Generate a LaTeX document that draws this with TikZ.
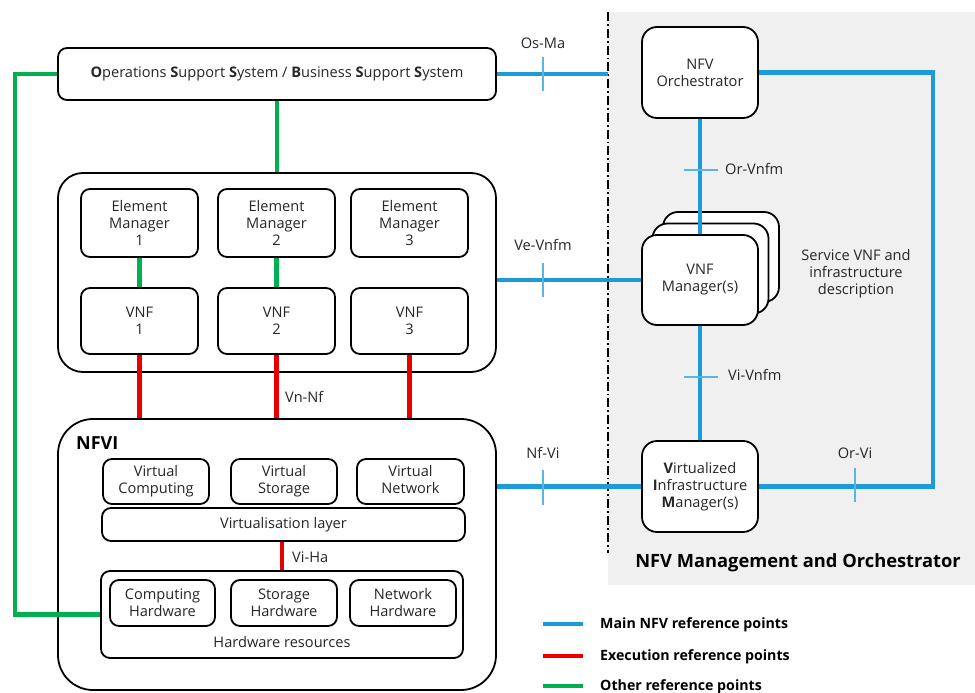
\documentclass[tikz,border=0pt]{standalone}
\usepackage{fontspec}
\setmainfont{Open Sans}
\begin{document}
\begin{tikzpicture}[x=1pt,y=-1pt,
  box/.style={draw=black, line width=1.8pt, rounded corners=9pt, align=center, inner sep=0pt, fill=white, text=black!85, font=\fontsize{14.6}{17}\selectfont},
  bigbox/.style={box, rounded corners=25pt},
  mainref/.style={draw={rgb,255:red,27;green,155;blue,215}, line width=4.5pt},
  execref/.style={draw={rgb,255:red,230;green,0;blue,0}, line width=4.5pt},
  otherref/.style={draw={rgb,255:red,0;green,176;blue,80}, line width=4.5pt},
  tick/.style={draw={rgb,255:red,90;green,180;blue,228}, line width=1.3pt},
  lbl/.style={text=black!85, font=\fontsize{14.6}{17}\selectfont, inner sep=0pt},
  leg/.style={text=black, font=\bfseries\fontsize{14.2}{16}\selectfont, anchor=west, inner sep=0pt}
]
\useasboundingbox (0,0) rectangle (975,693);
% MANO background
\fill[black!6] (608,12) rectangle (975,585);
\draw[line width=2pt, dash pattern=on 9pt off 3pt on 1.8pt off 3pt] (608,12) -- (608,553);

% Left nodes
\node[box, minimum width=438pt, minimum height=52pt] (oss) at (277,74)
  {\textbf{O}perations \textbf{S}upport \textbf{S}ystem / \textbf{B}usiness \textbf{S}upport \textbf{S}ystem};
\node[bigbox, minimum width=438pt, minimum height=199pt] (vnfc) at (277,272.5) {};
\node[box, minimum width=117pt, minimum height=68pt] (em1) at (139.5,223) {Element\\Manager\\1};
\node[box, minimum width=117pt, minimum height=68pt] (em2) at (276.5,223) {Element\\Manager\\2};
\node[box, minimum width=117pt, minimum height=68pt] (em3) at (409.5,223) {Element\\Manager\\3};
\node[box, minimum width=117pt, minimum height=66pt] (vnf1) at (139.5,321) {VNF\\1};
\node[box, minimum width=117pt, minimum height=66pt] (vnf2) at (276.5,321) {VNF\\2};
\node[box, minimum width=117pt, minimum height=66pt] (vnf3) at (409.5,321) {VNF\\3};

\node[bigbox, rounded corners=35pt, minimum width=438pt, minimum height=271pt] (nfvi) at (277,554.5) {};
\node[anchor=west, inner sep=0pt, font=\bfseries\fontsize{18}{20}\selectfont] (nfvit) at (76,443) {NFVI};
\node[box, minimum width=106pt, minimum height=45pt] (vc) at (156,481.5) {Virtual\\Computing};
\node[box, minimum width=106pt, minimum height=45pt] (vs) at (284,481.5) {Virtual\\Storage};
\node[box, minimum width=107pt, minimum height=45pt] (vn) at (410.5,481.5) {Virtual\\Network\vphantom{g}};
\node[box, minimum width=363pt, minimum height=33pt] (vl) at (283.5,524.5) {Virtualisation layer};
\node[box, minimum width=362pt, minimum height=87pt] (hw) at (282,614.5) {};
\node[lbl] (hwt) at (282,642) {Hardware resources};
\node[box, minimum width=105pt, minimum height=46pt] (ch) at (162.5,603) {Computing\\Hardware};
\node[box, minimum width=106pt, minimum height=46pt] (sh) at (284,603) {Storage\\Hardware};
\node[box, minimum width=106pt, minimum height=46pt] (nh) at (403,603) {Network\\Hardware};

% MANO nodes
\node[box, rounded corners=15pt, minimum width=116pt, minimum height=91pt] (orch) at (700,72.5) {NFV\\Orchestrator};
\node[box, rounded corners=15pt, minimum width=116pt, minimum height=90pt] (vnfmb2) at (721,257) {};
\node[box, rounded corners=15pt, minimum width=116pt, minimum height=90pt] (vnfmb1) at (710.5,268.5) {};
\coordinate (vnfmtop) at (700,235);
\draw[mainref] (orch.south) -- (vnfmtop);
\node[box, rounded corners=15pt, minimum width=116pt, minimum height=90pt] (vnfm) at (700,280) {VNF\\Manager(s)};
\node[box, rounded corners=15pt, minimum width=116pt, minimum height=91pt] (vim) at (700,486.5)
  {\textbf{V}irtualized\\\textbf{I}nfrastructure\\\textbf{M}anager(s)};
\node[lbl, align=center] (svnf) at (856,274) {Service VNF and\\infrastructure\\description};

% Blue connectors
\coordinate (osmaend) at (608,74);
\draw[mainref] (oss.east) -- (osmaend);
\coordinate (orvic) at (933,280);
\draw[mainref] (orch.east) -| (orvic) |- (vim.east);
\draw[mainref] (vnfm.south) -- (vim.north);
\draw[mainref] (vnfm.west -| vnfc.east) -- (vnfm.west);
\draw[mainref] (vim.west -| nfvi.east) -- (vim.west);

% ticks and labels
\draw[tick] (543,57) -- (543,91);
\node[lbl] (osma) at (543,43) {Os-Ma};
\draw[tick] (684,170) -- (718,170);
\node[lbl, anchor=west] (orvnfm) at (725,169) {Or-Vnfm};
\draw[tick] (543,263) -- (543,297);
\node[lbl] (vevnfm) at (543,245) {Ve-Vnfm};
\draw[tick] (684,377) -- (718,377);
\node[lbl, anchor=west] (vivnfm) at (728,375) {Vi-Vnfm};
\draw[tick] (543,470) -- (543,505);
\node[lbl] (nfvil) at (543,453) {Nf-Vi};
\draw[tick] (855,468) -- (855,502);
\node[lbl] (orvil) at (855,453) {Or-Vi};

% green
\draw[otherref] (oss.south) -- (vnfc.north);
\coordinate (gc) at (15,300);
\draw[otherref] (oss.west) -| (gc) |- (hw.west);
\draw[otherref] (em1.south) -- (vnf1.north);
\draw[otherref] (em2.south) -- (vnf2.north);

% red
\draw[execref] (vnf1.south) -- (vnf1.south |- nfvi.north);
\draw[execref] (vnf2.south) -- (vnf2.south |- nfvi.north);
\draw[execref] (vnf3.south) -- (vnf3.south |- nfvi.north);
\node[lbl, anchor=west] (vnnf) at (285,397) {Vn-Nf};
\draw[execref] (vl.south -| hw.north) -- (hw.north);
\node[lbl, anchor=west] (viha) at (292,557) {Vi-Ha};

% title
\node[inner sep=0pt, font=\bfseries\fontsize{18.3}{21}\selectfont] (manot) at (798,563) {NFV Management and Orchestrator};

% legend
\coordinate (l1a) at (543,624); \coordinate (l1b) at (583,624);
\coordinate (l2a) at (543,656); \coordinate (l2b) at (583,656);
\coordinate (l3a) at (543,686); \coordinate (l3b) at (583,686);
\draw[mainref] (l1a) -- (l1b);
\draw[execref] (l2a) -- (l2b);
\draw[otherref] (l3a) -- (l3b);
\node[leg] (lg1) at (600,625) {Main NFV reference points};
\node[leg] (lg2) at (600,657) {Execution reference points};
\node[leg] (lg3) at (600,687) {Other reference points};
\end{tikzpicture}
\end{document}
